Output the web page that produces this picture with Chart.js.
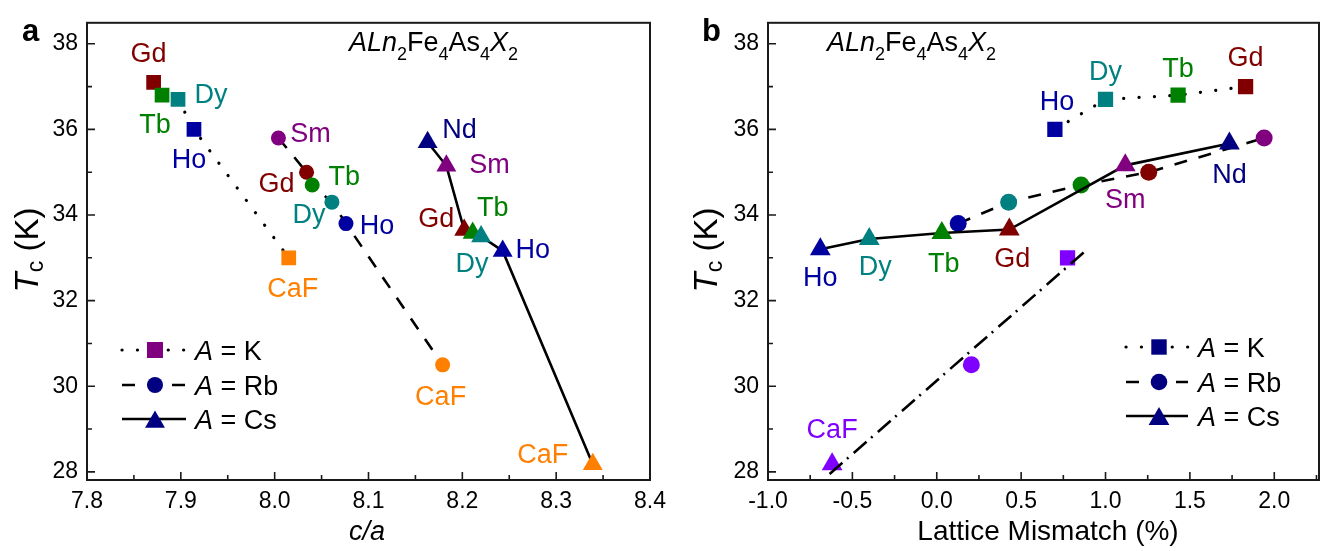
<!DOCTYPE html>
<html><head><meta charset="utf-8">
<script src="https://cdn.jsdelivr.net/npm/chart.js@4.4.0/dist/chart.umd.min.js"></script>
<style>
html,body{margin:0;padding:0;background:#fff;}
#wrap{position:relative;width:1331px;height:551px;overflow:hidden;background:#fff;}
canvas{position:absolute;top:0;}
#ca{left:0;} #cb{left:680px;}
</style></head><body>
<div id="wrap"><canvas id="ca" width="680" height="551"></canvas><canvas id="cb" width="651" height="551"></canvas></div>
<script>
// ---------------- data ----------------
const tcTicks = [28, 30, 32, 34, 36, 38];
const caTicks = [7.8, 7.9, 8.0, 8.1, 8.2, 8.3, 8.4];
const mmTicks = [-1.0, -0.5, 0.0, 0.5, 1.0, 1.5, 2.0];

// panel a : Tc vs c/a
const namesK_a  = ['Gd', 'Tb', 'Dy', 'Ho', 'CaF'];
const caK       = [7.871, 7.880, 7.897, 7.914, 8.015];
const tcK_a     = [37.1, 36.8, 36.7, 36.0, 33.0];

const namesRb_a = ['Sm', 'Gd', 'Tb', 'Dy', 'Ho', 'CaF'];
const caRb      = [8.004, 8.034, 8.040, 8.061, 8.076, 8.179];
const tcRb_a    = [35.8, 35.0, 34.7, 34.3, 33.8, 30.5];

const namesCs_a = ['Nd', 'Sm', 'Gd', 'Tb', 'Dy', 'Ho', 'CaF'];
const caCs      = [8.163, 8.183, 8.202, 8.211, 8.220, 8.243, 8.339];
const tcCs_a    = [35.7, 35.15, 33.65, 33.58, 33.5, 33.16, 28.18];

// panel b : Tc vs lattice mismatch (%)
const namesK_b  = ['Ho', 'Dy', 'Tb', 'Gd'];
const mmK       = [0.70, 1.00, 1.43, 1.83];
const tcK_b     = [36.0, 36.7, 36.8, 37.0];

const namesRb_b = ['Ho', 'Dy', 'Tb', 'Gd', 'Sm'];
const mmRb      = [0.127, 0.426, 0.855, 1.256, 1.94];
const tcRb_b    = [33.8, 34.3, 34.7, 35.0, 35.8];

const namesCs_b = ['Ho', 'Dy', 'Tb', 'Gd', 'Sm', 'Nd'];
const mmCs      = [-0.69, -0.40, 0.03, 0.43, 1.117, 1.734];
const tcCs_b    = [33.2, 33.44, 33.58, 33.66, 35.16, 35.67];

// CaF compounds in panel b (A = K, Rb, Cs)
const namesCaF_b = ['CaF', 'CaF', 'CaF'];
const mmCaF      = [0.775, 0.205, -0.62];
const tcCaF_b    = [33.0, 30.5, 28.18];

// dash-dot guide line in panel b
const fitMm = [-0.635, 0.89];
const fitTc = [27.95, 33.19];

// ---------------- styles ----------------
const FONT = '"Liberation Sans", Arial, Helvetica, sans-serif';
const LBL = 27;          // point-label / legend font size
const elemColorA = {Gd:'#800000', Tb:'#008000', Dy:'#008080', Ho:'#0000A0', Sm:'#800080', Nd:'#000080', CaF:'#FF8000'};
const elemColorB = Object.assign({}, elemColorA, {CaF:'#8000FF'});

// label placement (pixel offset from marker centre: dx, baseline dy)
const labelPlaceA = {
  K:  [[-5,-20],[-7,38],[33,4],[-5,39],[4,39]],
  Rb: [[32,4],[-30,20],[32,0],[-23,21],[31,10],[-2,40]],
  Cs: [[32,-4],[43,7],[-28,-3],[20,-17],[-9,36],[30,7],[-50,-1]]
};
const labelPlaceB = {
  K:  [[2,-19],[0,-19],[0,-18],[0,-21]],
  Cs: [[0,37],[6,36],[2,39],[3,37],[0,43],[0,39]],
  CaF:[null,null,[0,-26]]
};

const DOT = [0.1, 15.3], DASH = [13, 12], DASHDOT = [17, 6, 2, 7];

function pts(xs, ys) { return xs.map((x, i) => ({x: x, y: ys[i]})); }

function seriesDS(xs, ys, names, colors, style, radius, dash, cap, place, order) {
  const c = names.map(n => colors[n]);
  return {
    data: pts(xs, ys), showLine: true, order: order,
    borderColor: '#000', borderWidth: dash === DOT ? 3.2 : 2.6,
    borderDash: dash, borderCapStyle: cap,
    pointStyle: style, pointRadius: radius, pointHoverRadius: radius,
    pointBackgroundColor: c, pointBorderColor: c, pointBorderWidth: 0,
    ptNames: names, ptColors: c, ptPlace: place
  };
}

function drawMarker(ctx, style, r, x, y) {
  ctx.beginPath();
  if (style === 'rect') {
    const s = r * Math.SQRT1_2;
    ctx.rect(x - s, y - s, 2 * s, 2 * s);
  } else if (style === 'circle') {
    ctx.arc(x, y, r, 0, Math.PI * 2);
  } else {
    ctx.moveTo(x, y - r);
    ctx.lineTo(x + r * 0.8660254, y + r * 0.5);
    ctx.lineTo(x - r * 0.8660254, y + r * 0.5);
    ctx.closePath();
  }
  ctx.fill();
}

function measureRuns(ctx, runs, size, subSize) {
  let w = 0;
  runs.forEach(r => {
    ctx.font = (r.i ? 'italic ' : '') + (r.sub ? subSize : size) + 'px ' + FONT;
    w += ctx.measureText(r.t).width;
  });
  return w;
}
function paintRuns(ctx, runs, x, y, size, subSize, subShift) {
  let cx = x;
  runs.forEach(r => {
    ctx.font = (r.i ? 'italic ' : '') + (r.sub ? subSize : size) + 'px ' + FONT;
    ctx.fillText(r.t, cx, y + (r.sub ? subShift : 0));
    cx += ctx.measureText(r.t).width;
  });
}

const formulaRuns = [{t:'A',i:1},{t:'Ln',i:1},{t:'2',sub:1},{t:'Fe'},{t:'4',sub:1},{t:'As'},{t:'4',sub:1},{t:'X',i:1},{t:'2',sub:1}];
const tcRuns = [{t:'T',i:1},{t:'c',sub:1},{t:' (K)'}];

// ---------------- plugins ----------------
const labelPlugin = {
  id: 'ptLabels',
  afterDatasetsDraw(chart) {
    const ctx = chart.ctx;
    ctx.save();
    ctx.font = LBL + 'px ' + FONT;
    ctx.textAlign = 'center';
    ctx.textBaseline = 'alphabetic';
    chart.data.datasets.forEach((ds, i) => {
      if (!ds.ptPlace) return;
      const meta = chart.getDatasetMeta(i);
      meta.data.forEach((el, j) => {
        const off = ds.ptPlace[j];
        if (!off) return;
        ctx.fillStyle = ds.ptColors[j];
        ctx.fillText(ds.ptNames[j], el.x + off[0], el.y + off[1]);
      });
    });
    ctx.restore();
  }
};

const framePlugin = {
  id: 'frame',
  afterDatasetsDraw(chart) {
    const ctx = chart.ctx, a = chart.chartArea, xs = chart.scales.x, ys = chart.scales.y;
    ctx.save();
    ctx.strokeStyle = '#1a1a1a';
    ctx.lineWidth = 2;
    ctx.strokeRect(a.left, a.top, a.right - a.left, a.bottom - a.top);
    ctx.lineWidth = 1.6;
    ctx.beginPath();
    const xt = xs.ticks.map(t => t.value), yt = ys.ticks.map(t => t.value);
    const xst = xt[1] - xt[0], yst = yt[1] - yt[0];
    xt.forEach(v => { const p = xs.getPixelForValue(v); ctx.moveTo(p, a.bottom); ctx.lineTo(p, a.bottom - 8); });
    for (let v = xt[0] - xst / 2; v <= xs.max + 1e-9; v += xst) {
      if (v < xs.min - 1e-9) continue;
      const p = xs.getPixelForValue(v); ctx.moveTo(p, a.bottom); ctx.lineTo(p, a.bottom - 5);
    }
    yt.forEach(v => { const p = ys.getPixelForValue(v); ctx.moveTo(a.left, p); ctx.lineTo(a.left + 8, p); });
    for (let v = yt[0] - yst / 2; v <= ys.max + 1e-9; v += yst) {
      if (v < ys.min - 1e-9) continue;
      const p = ys.getPixelForValue(v); ctx.moveTo(a.left, p); ctx.lineTo(a.left + 5, p);
    }
    ctx.stroke();
    ctx.restore();
  }
};

const decorPlugin = {
  id: 'decor',
  afterDraw(chart, args, o) {
    const ctx = chart.ctx;
    ctx.save();
    ctx.fillStyle = '#000';
    ctx.textBaseline = 'alphabetic';
    ctx.textAlign = 'left';
    // panel letter
    ctx.font = 'bold 31px ' + FONT;
    ctx.fillText(o.letter, o.letterX, 41);
    // formula
    paintRuns(ctx, formulaRuns, o.formulaX, 51, 27, 18, 9);
    // x title
    ctx.font = o.xItalic ? 'italic 27px ' + FONT : '28px ' + FONT;
    ctx.textAlign = 'center';
    ctx.fillText(o.xTitle, o.xTitleX, 540);
    ctx.textAlign = 'left';
    // y title (rotated)
    ctx.save();
    ctx.translate(o.yTitleX, o.yTitleY);
    ctx.rotate(-Math.PI / 2);
    const w = measureRuns(ctx, tcRuns, 33, 23);
    paintRuns(ctx, tcRuns, -w / 2, 0, 33, 23, 5);
    ctx.restore();
    // legend
    o.legend.forEach((it, k) => {
      const y = o.legRows[k];
      ctx.save();
      ctx.strokeStyle = '#000';
      ctx.lineWidth = it.dash === DOT ? 3.2 : 2.6;
      ctx.lineCap = it.dash === DOT ? 'round' : 'butt';
      ctx.setLineDash(it.dash);
      ctx.beginPath(); ctx.moveTo(o.legX0, y); ctx.lineTo(o.legX1, y); ctx.stroke();
      ctx.setLineDash([]);
      ctx.fillStyle = it.color;
      drawMarker(ctx, it.style, it.r, o.legXm, it.style === 'triangle' ? y + it.r / 4 : y);
      ctx.fillStyle = '#000';
      ctx.font = 'italic ' + LBL + 'px ' + FONT;
      ctx.fillText('A', o.legXt, y + 9.5);
      const wa = ctx.measureText('A').width;
      ctx.font = LBL + 'px ' + FONT;
      ctx.fillText(' = ' + it.text, o.legXt + wa, y + 9.5);
      ctx.restore();
    });
    ctx.restore();
  }
};

function makeChart(id, datasets, xMin, xMax, xTickVals, yWidth, padRight, decor) {
  return new Chart(document.getElementById(id), {
    type: 'scatter',
    data: { datasets: datasets },
    options: {
      responsive: false, animation: false, devicePixelRatio: 1,
      layout: { padding: { top: 11, left: 0, right: padRight, bottom: 0 } },
      plugins: { legend: { display: false }, tooltip: { enabled: false }, decor: decor },
      scales: {
        x: {
          type: 'linear', min: xMin, max: xMax,
          afterBuildTicks: s => { s.ticks = xTickVals.map(v => ({ value: v })); },
          afterFit: s => { s.height = 71; },
          grid: { display: false, drawTicks: false }, border: { display: false },
          ticks: { padding: 8, color: '#000', font: { family: FONT, size: 23 }, maxRotation: 0, autoSkip: false,
                   callback: v => Number(v).toFixed(1) }
        },
        y: {
          type: 'linear', min: 27.81, max: 38.49,
          afterBuildTicks: s => { s.ticks = tcTicks.map(v => ({ value: v })); },
          afterFit: s => { s.width = yWidth; },
          grid: { display: false, drawTicks: false }, border: { display: false },
          ticks: { padding: 9, color: '#000', font: { family: FONT, size: 23 }, autoSkip: false,
                   callback: v => String(Math.round(v)) }
        }
      }
    },
    plugins: [labelPlugin, framePlugin, decorPlugin]
  });
}

// ---------------- panel a ----------------
makeChart('ca', [
  seriesDS(caCs, tcCs_a, namesCs_a, elemColorA, 'triangle', 11.5, [], 'butt', labelPlaceA.Cs, 1),
  seriesDS(caRb, tcRb_a, namesRb_a, elemColorA, 'circle', 7.5, DASH, 'butt', labelPlaceA.Rb, 2),
  seriesDS(caK, tcK_a, namesK_a, elemColorA, 'rect', 10.4, DOT, 'round', labelPlaceA.K, 3)
], 7.8, 8.4, caTicks, 87, 30, {
  letter: 'a', letterX: 22, formulaX: 349,
  xTitle: 'c/a', xItalic: true, xTitleX: 367,
  yTitleX: 38, yTitleY: 250,
  legX0: 122, legX1: 186, legXm: 155, legXt: 195, legRows: [350, 385, 419],
  legend: [
    { dash: DOT, style: 'rect', r: 11.3, color: '#800080', text: 'K' },
    { dash: DASH, style: 'circle', r: 8, color: '#000080', text: 'Rb' },
    { dash: [], style: 'triangle', r: 11.5, color: '#000080', text: 'Cs' }
  ]
});

// ---------------- panel b ----------------
const fitDS = {
  data: pts(fitMm, fitTc), showLine: true, order: 0,
  borderColor: '#000', borderWidth: 2.6, borderDash: DASHDOT, pointRadius: 0, pointHoverRadius: 0
};
const cafDS = {
  data: pts(mmCaF, tcCaF_b), showLine: false, order: 1,
  pointStyle: ['rect', 'circle', 'triangle'], pointRadius: [10.8, 8.5, 12], pointHoverRadius: [10.8, 8.5, 12],
  pointBackgroundColor: elemColorB.CaF, pointBorderColor: elemColorB.CaF, pointBorderWidth: 0,
  ptNames: namesCaF_b, ptColors: namesCaF_b.map(n => elemColorB[n]), ptPlace: labelPlaceB.CaF
};
makeChart('cb', [
  fitDS, cafDS,
  seriesDS(mmCs, tcCs_b, namesCs_b, elemColorB, 'triangle', 12, [], 'butt', labelPlaceB.Cs, 2),
  seriesDS(mmRb, tcRb_b, namesRb_b, elemColorB, 'circle', 8.5, DASH, 'butt', null, 3),
  seriesDS(mmK, tcK_b, namesK_b, elemColorB, 'rect', 10.8, DOT, 'round', labelPlaceB.K, 4)
], -1.0, 2.265, mmTicks, 88, 6, {
  letter: 'b', letterX: 22, formulaX: 147,
  xTitle: 'Lattice Mismatch (%)', xItalic: false, xTitleX: 368,
  yTitleX: 37, yTitleY: 250,
  legX0: 446, legX1: 508, legXm: 479, legXt: 518, legRows: [347, 382, 416],
  legend: [
    { dash: DOT, style: 'rect', r: 10.9, color: '#000080', text: 'K' },
    { dash: DASH, style: 'circle', r: 8.3, color: '#000080', text: 'Rb' },
    { dash: [], style: 'triangle', r: 12, color: '#000080', text: 'Cs' }
  ]
});
</script>
</body></html>
